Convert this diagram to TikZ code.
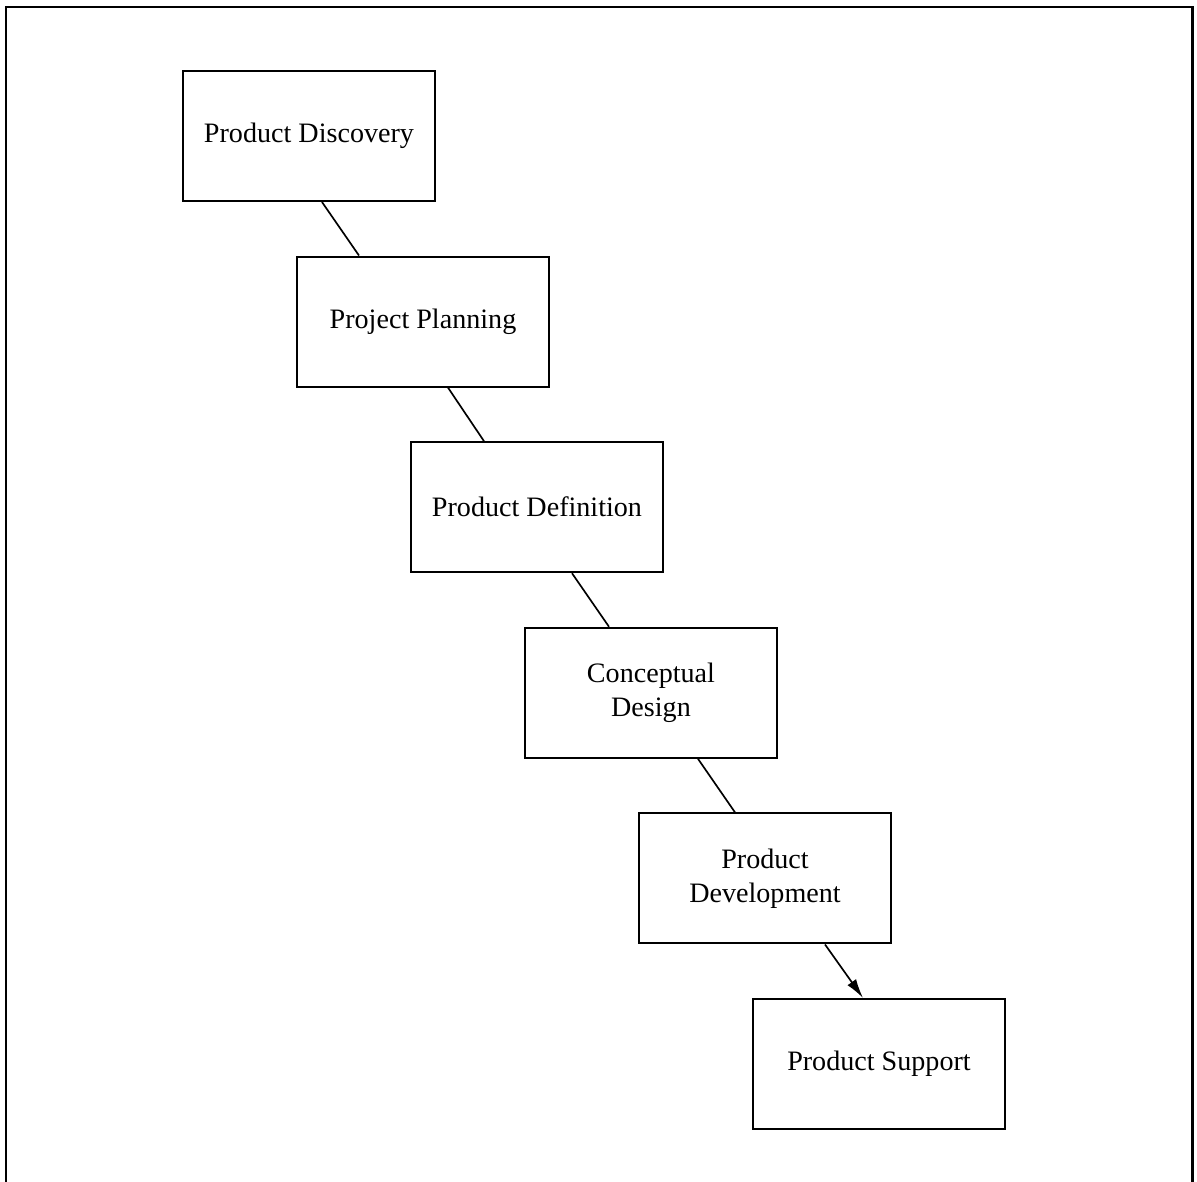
\documentclass[tikz,border=0pt]{standalone}
\usepackage{fontspec}
\setmainfont{Liberation Serif}
\usetikzlibrary{calc,arrows.meta}
\newcommand{\myfontstage}{\fontsize{16}{19.5}\selectfont}
\tikzset{
	stagebox/.style={draw,line width=1.2pt,minimum width=5.04cm,minimum height=2.6cm,inner sep=0pt,align=center,font=\myfontstage},
	stageline/.style={line width=0.95pt},
}
\begin{document}
\begin{tikzpicture}[x=0.02cm,y=-0.02cm]
			%Page size
			\useasboundingbox (0,0) rectangle (1197,1182);
			%Outer frame, open at the bottom
			\draw [line width=1.7pt] (6,1182) -- (6,7) -- (1192,7) -- (1192,1182);
			%Centers of the stages, each one step down-right
			\foreach \i in {1,...,6} {
				\coordinate (center\i) at ({309+(\i-1)*114},{136+(\i-1)*185.6});
			}
			%The stages
			\node [stagebox] (box1) at (center1) {Product Discovery};
			\node [stagebox] (box2) at (center2) {Project Planning};
			\node [stagebox] (box3) at (center3) {Product Definition};
			\node [stagebox] (box4) at (center4) {Conceptual\\Design};
			\node [stagebox] (box5) at (center5) {Product\\Development};
			\node [stagebox] (box6) at (center6) {Product Support};
			%Links between the stages
			\foreach \a/\b/\s/\e in {1/2/13/-64, 2/3/25/-53, 3/4/35/-42, 4/5/47/-30} {
				\draw [stageline] ($(box\a.south)+(\s,0)$) -- ($(box\b.north)+(\e,0)$);
			}
			%Last link with arrow
			\draw [stageline,-{Latex[length=11pt,width=6pt]}] ($(box5.south)+(60,0)$) -- ($(box6.north)+(-16,0)$);
\end{tikzpicture}
\end{document}
